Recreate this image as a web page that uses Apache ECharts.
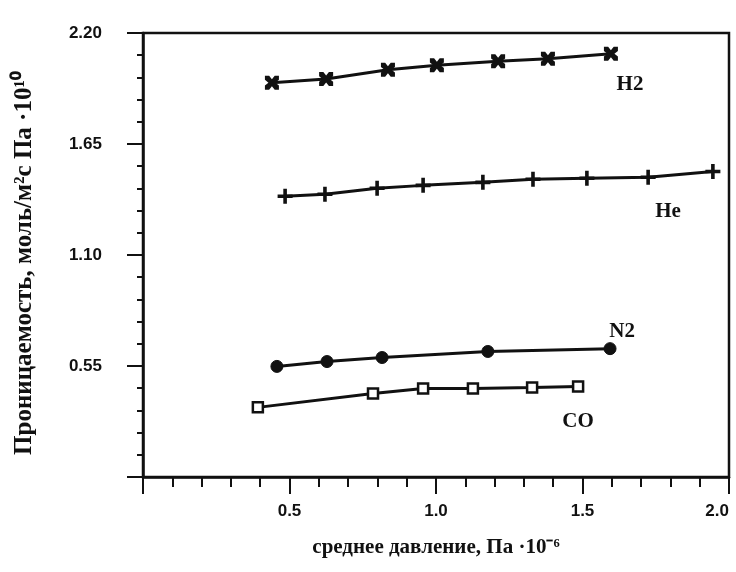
<!DOCTYPE html>
<html>
<head>
<meta charset="utf-8">
<script src="https://cdn.jsdelivr.net/npm/echarts@6/dist/echarts.min.js"></script>
<style>
html,body{margin:0;padding:0;background:#fff;}
#chart{width:736px;height:572px;}
</style>
</head>
<body>
<div id="chart"></div>
<script>
// ---- data ----
const h2X = [0.44, 0.625, 0.836, 1.003, 1.212, 1.382, 1.597];
const h2Y = [1.954, 1.972, 2.018, 2.040, 2.060, 2.072, 2.097];
const heX = [0.485, 0.621, 0.799, 0.956, 1.160, 1.331, 1.515, 1.724, 1.945];
const heY = [1.391, 1.401, 1.431, 1.445, 1.460, 1.475, 1.480, 1.485, 1.514];
const n2X = [0.457, 0.628, 0.816, 1.177, 1.594];
const n2Y = [0.548, 0.572, 0.592, 0.622, 0.636];
const coX = [0.392, 0.785, 0.956, 1.126, 1.328, 1.485];
const coY = [0.345, 0.414, 0.439, 0.439, 0.444, 0.449];
const seriesNames = ['H2', 'He', 'N2', 'CO'];
const xTickLabels = ['0.5', '1.0', '1.5', '2.0'];
const yTickLabels = ['0.55', '1.10', '1.65', '2.20'];
const xTitle = 'среднее давление, Па ·10⁻⁶';
const yTitle = 'Проницаемость, моль/м²с Па ·10¹⁰';
// label anchor points (data coords)
const labelAt = [[1.662, 1.944], [1.792, 1.317], [1.635, 0.720], [1.485, 0.276]];

const zip = (xs, ys) => xs.map((x, i) => [x, ys[i]]);

const symH2 = 'path://M0,0 L3,0 L5,2.5 L7,0 L10,0 L10,3 L7.5,5 L10,7 L10,10 L7,10 L5,7.5 L3,10 L0,10 L0,7 L2.5,5 L0,3 Z';
const symHe = 'path://M3.8,0 H6.2 V3.8 H10 V6.2 H6.2 V10 H3.8 V6.2 H0 V3.8 H3.8 Z';

function mk(name, data, symbol, size, itemStyle, idx) {
  return {
    name: name, type: 'line', data: data,
    symbol: symbol, symbolSize: size,
    lineStyle: {color: '#111', width: 3},
    itemStyle: itemStyle,
    z: 3,
    markPoint: {
      symbol: 'circle', symbolSize: 0,
      data: [{coord: labelAt[idx], value: name}],
      label: {show: true, position: 'inside', formatter: name,
        fontFamily: 'Liberation Serif', fontWeight: 'bold', fontSize: 21, color: '#111'}
    }
  };
}

const chart = echarts.init(document.getElementById('chart'), null, {renderer: 'canvas'});
chart.setOption({
  animation: false,
  backgroundColor: '#fff',
  grid: {left: 143, right: 7, top: 33, bottom: 95, show: true, borderColor: '#111', borderWidth: 2.5},
  xAxis: {
    type: 'value', min: 0, max: 2, interval: 0.5,
    name: xTitle, nameLocation: 'middle', nameGap: 60,
    nameTextStyle: {fontFamily: 'Liberation Serif', fontWeight: 'bold', fontSize: 21, color: '#111'},
    axisLine: {lineStyle: {color: '#111', width: 2.5}},
    axisTick: {show: true, inside: false, length: 17, lineStyle: {color: '#111', width: 2}},
    minorTick: {show: true, splitNumber: 5, length: 10, lineStyle: {color: '#111', width: 2}},
    splitLine: {show: false},
    axisLabel: {margin: 26, alignMaxLabel: 'right', fontFamily: 'Liberation Sans', fontWeight: 'bold', fontSize: 17, color: '#111',
      formatter: v => { const i = Math.round(v / 0.5) - 1; return i >= 0 ? xTickLabels[i] : ''; }}
  },
  yAxis: {
    type: 'value', min: 0, max: 2.2, interval: 0.55,
    name: yTitle, nameLocation: 'middle', nameGap: 106, nameRotate: 90,
    nameTextStyle: {fontFamily: 'Liberation Serif', fontWeight: 'bold', fontSize: 25, color: '#111', padding: [0, 16, 0, 0]},
    axisLine: {lineStyle: {color: '#111', width: 2.5}},
    axisTick: {show: true, inside: false, length: 16, lineStyle: {color: '#111', width: 2}},
    minorTick: {show: true, splitNumber: 5, length: 6, lineStyle: {color: '#111', width: 2}},
    splitLine: {show: false},
    axisLabel: {margin: 41, fontFamily: 'Liberation Sans', fontWeight: 'bold', fontSize: 17, color: '#111',
      formatter: v => { const i = Math.round(v / 0.55) - 1; return i >= 0 ? yTickLabels[i] : ''; }}
  },
  series: [
    mk(seriesNames[0], zip(h2X, h2Y), symH2, 14, {color: '#111'}, 0),
    mk(seriesNames[1], zip(heX, heY), symHe, 15, {color: '#111'}, 1),
    mk(seriesNames[2], zip(n2X, n2Y), 'circle', 12, {color: '#111', borderColor: '#111', borderWidth: 1}, 2),
    mk(seriesNames[3], zip(coX, coY), 'rect', 10, {color: '#fff', borderColor: '#111', borderWidth: 2.5}, 3)
  ]
});
</script>
</body>
</html>
